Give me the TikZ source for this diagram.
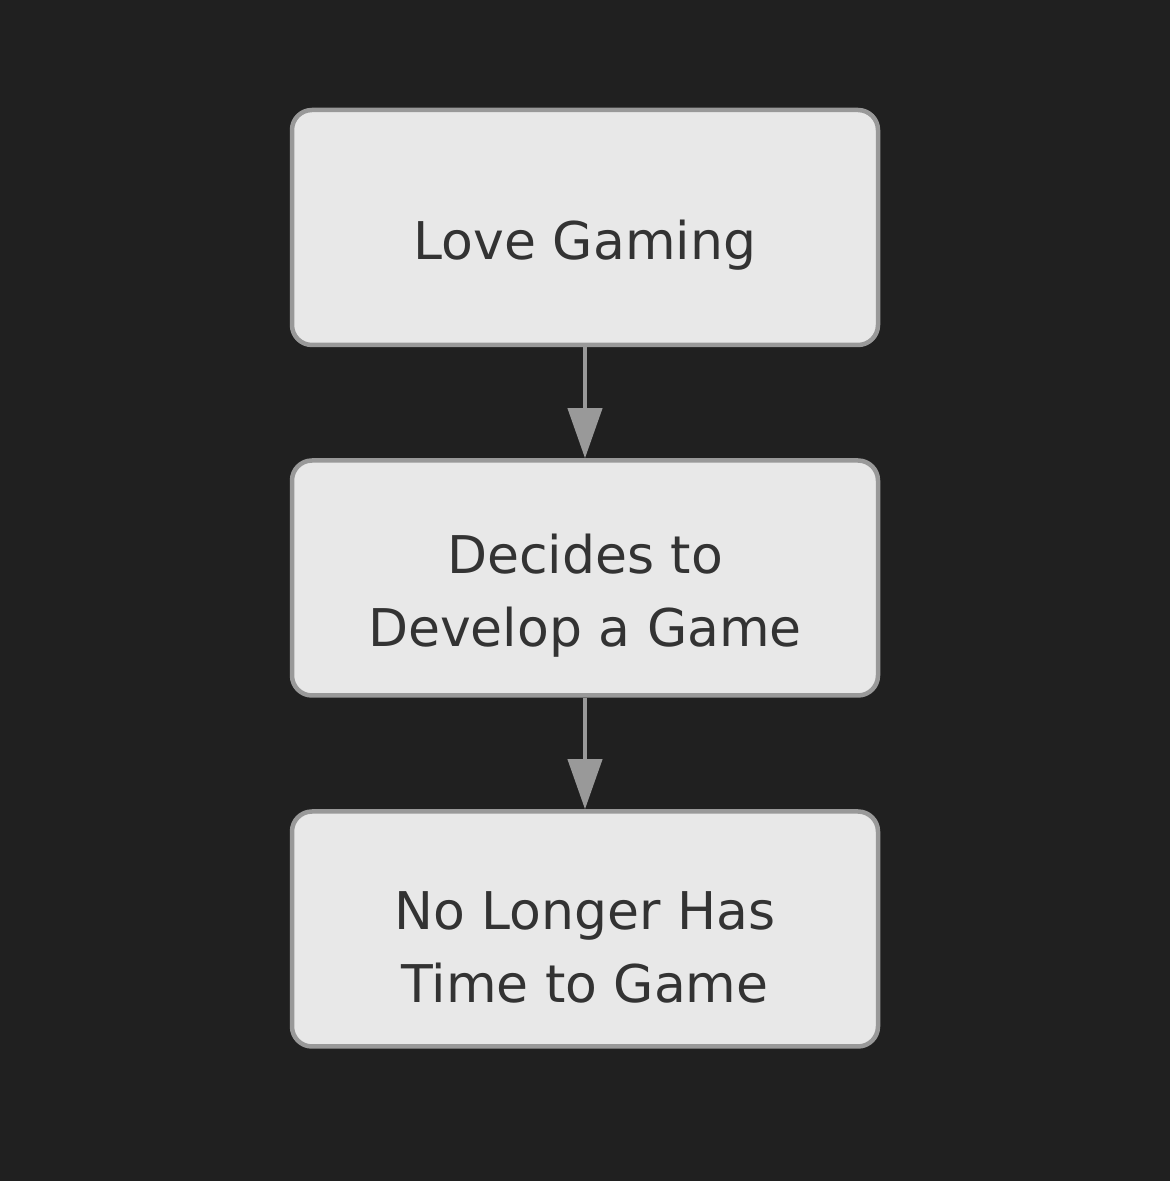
\documentclass[tikz,border=0pt]{standalone}
\usepackage{fontspec}
\setmainfont{DejaVu Sans}
\usetikzlibrary{arrows.meta}
\definecolor{bg}{HTML}{202020}
\definecolor{boxfill}{HTML}{E8E8E8}
\definecolor{boxline}{HTML}{999999}
\definecolor{txt}{HTML}{333333}
\tikzset{
  stepbox/.style={draw=boxline, fill=boxfill, line width=4.5pt, rounded corners=20pt,
    minimum width=586pt, minimum height=235pt, inner sep=0pt},
  steptext/.style={align=center, text=txt, inner sep=0pt, yshift=-18pt,
    font=\fontsize{52pt}{73pt}\selectfont},
  flow/.style={draw=boxline, line width=4pt, -{Triangle[width=34pt,length=50pt]}}
}
\begin{document}
\begin{tikzpicture}[x=1pt,y=1pt]
\fill[bg] (0,0) rectangle (1170,1181);
\useasboundingbox (0,0) rectangle (1170,1181);
\node[stepbox] (a) at (585,953.5) {};
\node[stepbox] (b) at (585,603) {};
\node[stepbox] (c) at (585,252) {};
\node[steptext] (at) at (a) {Love Gaming};
\node[steptext] (bt) at (b) {Decides to\\Develop a Game};
\node[steptext] (ct) at (c) {No Longer Has\\Time to Game};
\draw[flow] (a.south) -- (b.north);
\draw[flow] (b.south) -- (c.north);
\end{tikzpicture}
\end{document}
